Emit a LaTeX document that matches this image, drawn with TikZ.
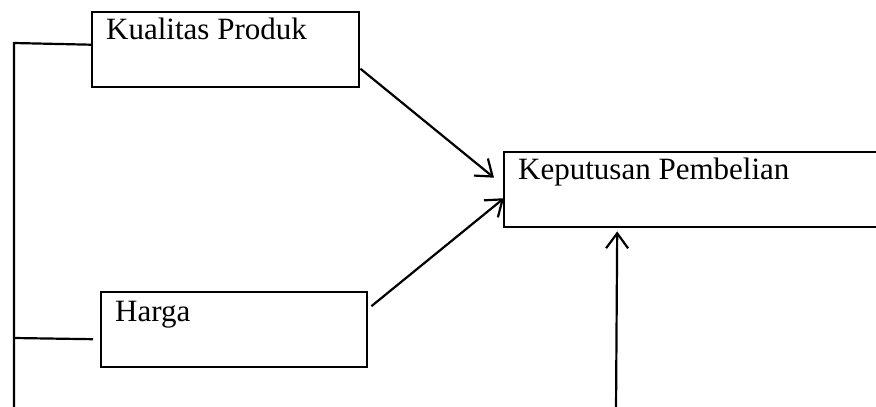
\documentclass[tikz,border=0pt]{standalone}
\usepackage{fontspec}
\setmainfont{Liberation Serif}
\usetikzlibrary{arrows.meta}
\tikzset{
  box/.style={draw, line width=2.4pt, rectangle, inner sep=0pt, anchor=north west},
  lbl/.style={anchor=base west, inner sep=0pt, font=\fontsize{31}{37}\selectfont},
  ln/.style={line width=2.2pt},
  arr/.style={line width=2.2pt, -{Straight Barb[length=15pt,width=22pt,line width=2.2pt]}}
}
\begin{document}
\begin{tikzpicture}[x=1pt,y=-1pt]
            \useasboundingbox (0,0) rectangle (876,407);
            \clip (0,0) rectangle (876,407);
            \node[box, minimum width=267pt, minimum height=75pt] (kp) at (91,11) {};
            \node[box, minimum width=266pt, minimum height=75pt] (hg) at (100,291) {};
            \node[box, minimum width=377pt, minimum height=75pt] (kpb) at (503,151) {};
            \node[lbl] (kp-t) at (106,39) {Kualitas Produk};
            \node[lbl] (hg-t) at (115,321) {Harga};
            \node[lbl] (kpb-t) at (518,179) {Keputusan Pembelian};
            \coordinate (a) at (14,43);
            \coordinate (b) at (14,338);
            \coordinate (c) at (14,412);
            \coordinate (d) at (616,412);
            \draw[ln] (c) -- (a) -- ([yshift=5pt]kp.west);
            \draw[ln] (b) -- ([xshift=-7pt,yshift=-9.5pt]hg.west);
            \draw[arr] ([yshift=-19pt]kp.east) -- ([xshift=-9pt,yshift=12pt]kpb.west);
            \draw[arr] ([xshift=3pt,yshift=23.5pt]hg.east) -- ([xshift=1pt,yshift=-8.5pt]kpb.west);
            \draw[arr] (d) -- ([xshift=-75.5pt,yshift=-3pt]kpb.south);
        \end{tikzpicture}
\end{document}
